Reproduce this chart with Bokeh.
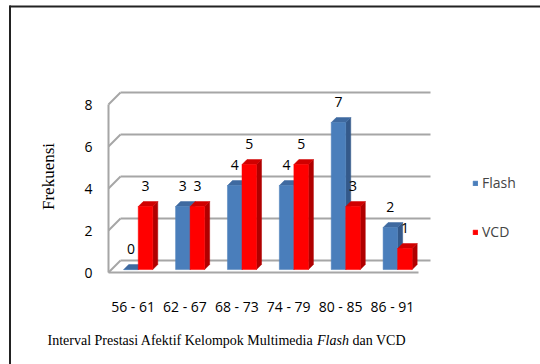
import math
from bokeh.plotting import figure
from bokeh.models import Range1d, LinearAxis, FixedTicker, ColumnDataSource, Legend, LegendItem
from bokeh.core.properties import value
from bokeh.embed import file_html
from bokeh.resources import INLINE

# ---- data ----
categories = ["56 - 61", "62 - 67", "68 - 73", "74 - 79", "80 - 85", "86 - 91"]
flash = [0, 3, 4, 4, 7, 2]
vcd = [3, 3, 5, 5, 3, 1]
y_ticks = [0, 2, 4, 6, 8]
series_names = ["Flash", "VCD"]
y_title = "Frekuensi"
caption_parts = ["Interval Prestasi Afektif Kelompok Multimedia", "Flash", "dan VCD"]

# ---- layout helpers ----
W, H = 540, 364
SX, SY = 51.88, 21.0          # pixels per data unit
X0 = -111.8 / SX
X1 = X0 + W / SX
Y1 = 272.0 / SY
Y0 = Y1 - H / SY


def px(v):  # page pixel x -> data x
    return X0 + v / SX


def py(v):  # page pixel y -> data y
    return Y1 - v / SY


DX, DY = 12 / SX, 12 / SY        # wall depth
BDX, BDY = 5 / SX, 5 / SY        # bar depth
WL, WR = px(108), px(418)
BW = 0.28
BASE = 0.14

CAL = "'Open Sans', sans-serif"
SERIF = "'Liberation Serif', 'Times New Roman', serif"

p = figure(width=W, height=H, x_range=Range1d(X0, X1), y_range=Range1d(Y0, Y1),
           x_axis_location=None, y_axis_location=None, toolbar_location=None,
           output_backend="svg", min_border=0, min_border_left=0, min_border_right=0,
           min_border_top=0, min_border_bottom=0)
p.outline_line_color = None
p.background_fill_color = "white"
p.border_fill_color = "white"
p.grid.visible = False

GRID = "#a6a6a6"
top = y_ticks[-1]
# back wall gridlines
p.segment(x0=[WL + DX] * len(y_ticks), y0=[t + DY for t in y_ticks],
          x1=[WR + DX] * len(y_ticks), y1=[t + DY for t in y_ticks],
          line_color=GRID, line_width=2)
# left wall diagonals
p.segment(x0=[WL] * len(y_ticks), y0=y_ticks,
          x1=[WL + DX] * len(y_ticks), y1=[t + DY for t in y_ticks],
          line_color=GRID, line_width=2)
# floor front edge
p.segment(x0=[WL], y0=[0], x1=[WR], y1=[0], line_color=GRID, line_width=2)

# ---- bars ----
def draw_series(vals, offset, front, side, topc):
    lefts = [i + 0.5 + offset for i in range(len(vals))]
    rights = [l + BW for l in lefts]
    tops = [BASE + v for v in vals]
    bots = [BASE] * len(vals)
    side_xs = [[r, r + BDX, r + BDX, r] for r in rights]
    side_ys = [[b, b + BDY, t + BDY, t] for b, t in zip(bots, tops)]
    top_xs = [[l, r, r + BDX, l + BDX] for l, r in zip(lefts, rights)]
    top_ys = [[t, t, t + BDY, t + BDY] for t in tops]
    p.patches(side_xs, side_ys, fill_color=side, line_color=side, line_width=0.5)
    p.patches(top_xs, top_ys, fill_color=topc, line_color=topc, line_width=0.5)
    src = ColumnDataSource(dict(left=lefts, right=rights, top=tops, bottom=bots))
    r = p.quad(left="left", right="right", top="top", bottom="bottom", source=src,
               fill_color=front, line_color=front, line_width=0.5)
    return r, lefts, tops

r_flash, fl, ft = draw_series(flash, -BW, "#4a7ebb", "#34598a", "#3f6aa0")
r_vcd, vl, vt = draw_series(vcd, 0.0, "#ff0000", "#b00000", "#d00000")

# value labels
lab_x = [l + BW / 2 for l in fl] + [l + BW / 2 for l in vl]
lab_y = [t + 1.0 for t in ft] + [t + 1.0 for t in vt]
lab_t = [str(v) for v in flash] + [str(v) for v in vcd]
p.text(x=lab_x, y=lab_y, text=lab_t, text_align="center", text_baseline="middle",
       text_font=value(CAL), text_font_size="14px", text_color="black")

# ---- axes ----
yaxis = LinearAxis(fixed_location=WL, ticker=FixedTicker(ticks=y_ticks), bounds=(0, top))
yaxis.axis_line_color = GRID
yaxis.axis_line_width = 2
yaxis.major_tick_line_color = None
yaxis.minor_tick_line_color = None
yaxis.major_tick_out = 0
yaxis.major_tick_in = 0
yaxis.major_label_standoff = 16
yaxis.major_label_text_font = CAL
yaxis.major_label_text_font_size = "14px"
yaxis.major_label_text_color = "black"
p.add_layout(yaxis, "left")

tick_pos = [i + 0.4 for i in range(len(categories))]
xaxis = LinearAxis(fixed_location=0, ticker=FixedTicker(ticks=tick_pos),
                   major_label_overrides={t: c for t, c in zip(tick_pos, categories)})
xaxis.axis_line_color = None
xaxis.major_tick_line_color = None
xaxis.minor_tick_line_color = None
xaxis.major_tick_out = 0
xaxis.major_tick_in = 0
xaxis.major_label_standoff = 24
xaxis.major_label_text_font = CAL
xaxis.major_label_text_font_size = "14px"
xaxis.major_label_text_color = "black"
p.add_layout(xaxis, "below")

# y title
p.text(x=[px(48)], y=[py(176)], text=[y_title], angle=math.pi / 2,
       text_align="center", text_baseline="middle",
       text_font=value(SERIF), text_font_size="17px", text_color="black")

# caption
p.text(x=[px(47)], y=[py(340)], text=[caption_parts[0]], text_align="left",
       text_baseline="middle", text_font=value(SERIF), text_font_size="14px",
       text_color="black")
p.text(x=[px(316.5)], y=[py(340)], text=[caption_parts[1]], text_align="left",
       text_baseline="middle", text_font=value(SERIF), text_font_size="14px",
       text_font_style="italic", text_color="black")
p.text(x=[px(352)], y=[py(340)], text=[caption_parts[2]], text_align="left",
       text_baseline="middle", text_font=value(SERIF), text_font_size="14px",
       text_color="black")

# frame border (left and top)
p.line(x=[px(9.5), px(9.5)], y=[py(5), py(370)], line_color="#222222", line_width=2)
p.line(x=[px(9), px(545)], y=[py(6), py(6)], line_color="#222222", line_width=2)

legend = Legend(items=[LegendItem(label=series_names[0], renderers=[r_flash]),
                       LegendItem(label=series_names[1], renderers=[r_vcd])],
                location=(472, 364 - 241), orientation="vertical", spacing=30,
                label_height=16, glyph_width=6, glyph_height=6, padding=0, margin=0,
                border_line_color=None, background_fill_alpha=0,
                label_text_font=CAL, label_text_font_size="14px", label_standoff=4)
p.add_layout(legend)

open("out.html", "w").write(file_html(p, INLINE))
